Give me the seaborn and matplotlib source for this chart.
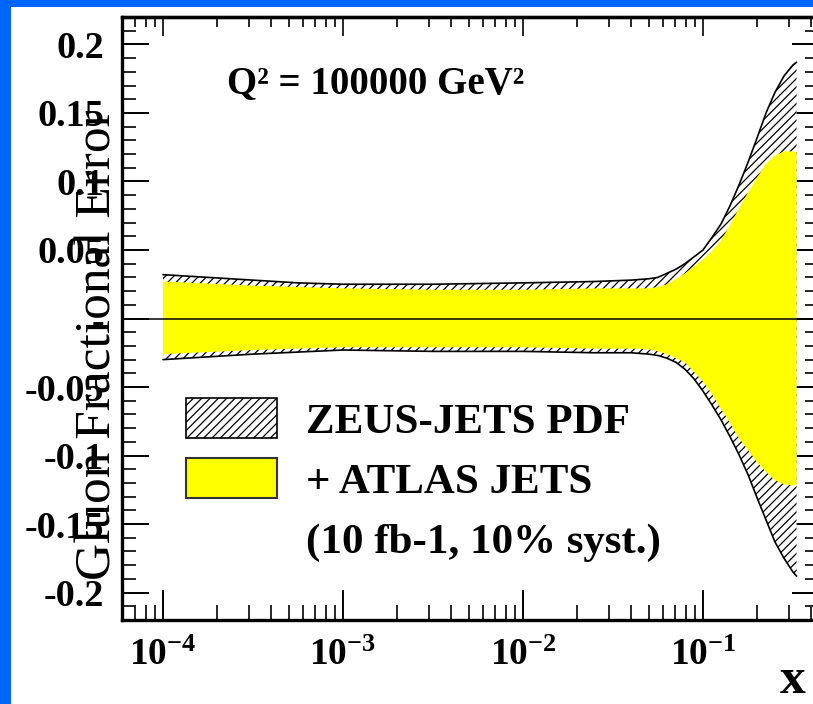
import numpy as np
import matplotlib
matplotlib.use("Agg")
import matplotlib.pyplot as plt
import seaborn as sns
from matplotlib.patches import Patch, Rectangle
from matplotlib.ticker import (FixedLocator, FixedFormatter, LogLocator,
                               MultipleLocator, NullFormatter)

# ---------------- data ----------------
x_vals = [1e-4, 1.78e-4, 3.16e-4, 5.62e-4, 1e-3, 3.16e-3, 1e-2, 0.0251, 0.0398, 0.0501,
          0.0562, 0.0631, 0.0708, 0.0794, 0.0891, 0.1, 0.112, 0.126, 0.141, 0.158,
          0.178, 0.2, 0.224, 0.251, 0.282, 0.316, 0.331]
zeus_upper = [0.032, 0.030, 0.028, 0.026, 0.025, 0.025, 0.026, 0.027, 0.028, 0.029,
              0.030, 0.033, 0.036, 0.040, 0.045, 0.050, 0.059, 0.069, 0.082, 0.097,
              0.114, 0.132, 0.150, 0.165, 0.177, 0.185, 0.187]
zeus_lower = [-0.030, -0.028, -0.026, -0.0245, -0.023, -0.024, -0.024, -0.025, -0.025, -0.026,
              -0.027, -0.029, -0.032, -0.037, -0.044, -0.053, -0.063, -0.074, -0.086, -0.099,
              -0.114, -0.131, -0.147, -0.163, -0.175, -0.185, -0.188]
atlas_upper = [0.027, 0.0255, 0.024, 0.023, 0.022, 0.021, 0.021, 0.022, 0.022, 0.022,
               0.023, 0.025, 0.029, 0.033, 0.038, 0.043, 0.049, 0.057, 0.068, 0.080,
               0.092, 0.103, 0.113, 0.119, 0.122, 0.122, 0.121]
atlas_lower = [-0.026, -0.0245, -0.023, -0.022, -0.021, -0.021, -0.021, -0.022, -0.022, -0.0225,
               -0.024, -0.026, -0.029, -0.032, -0.039, -0.046, -0.055, -0.066, -0.076, -0.087,
               -0.096, -0.105, -0.112, -0.118, -0.121, -0.122, -0.121]

xtick_vals = [1e-4, 1e-3, 1e-2, 1e-1]
xtick_labels = [r"$\mathbf{10^{-4}}$", r"$\mathbf{10^{-3}}$",
                r"$\mathbf{10^{-2}}$", r"$\mathbf{10^{-1}}$"]
ytick_vals = [0.2, 0.15, 0.1, 0.05, 0.0, -0.05, -0.1, -0.15, -0.2]
ytick_labels = ["0.2", "0.15", "0.1", "0.05", "-", "-0.05", "-0.1", "-0.15", "-0.2"]

legend_labels = ["ZEUS-JETS PDF", "+ ATLAS JETS", "(10 fb-1, 10% syst.)"]
title_text = "Q² = 100000 GeV²"
y_title = "Gluon Fractional Error"
x_title = "x"

# ---------------- style ----------------
sns.set_style("ticks")
plt.rcParams["font.family"] = ["Liberation Serif", "DejaVu Serif"]
plt.rcParams["font.weight"] = "bold"
plt.rcParams["mathtext.fontset"] = "custom"
plt.rcParams["mathtext.rm"] = "Liberation Serif"
plt.rcParams["mathtext.bf"] = "Liberation Serif:bold"
plt.rcParams["hatch.linewidth"] = 0.9

BLUE = "#0066FF"
YELLOW = "#FFFF00"

fig = plt.figure(figsize=(8.13, 7.04), dpi=100, facecolor=BLUE)
panel = Rectangle((11 / 813, 0), 1.0, (704 - 7) / 704, transform=fig.transFigure,
                  facecolor="white", edgecolor="none", zorder=-1)
fig.add_artist(panel)

ax = fig.add_axes([122 / 813, 84 / 704, 697 / 813, 603 / 704])
ax.set_facecolor("white")
ax.set_xscale("log")

# outer (hatched) band
ax.fill_between(x_vals, zeus_lower, zeus_upper, facecolor="white",
                edgecolor="black", hatch="////", linewidth=0, zorder=1)
sns.lineplot(x=x_vals, y=zeus_upper, ax=ax, color="black", lw=1.2, zorder=2)
sns.lineplot(x=x_vals, y=zeus_lower, ax=ax, color="black", lw=1.2, zorder=2)
# inner (yellow) band
ax.fill_between(x_vals, atlas_lower, atlas_upper, facecolor=YELLOW,
                edgecolor="none", linewidth=0, zorder=3)
ax.axhline(0.0, color="black", lw=1.1, zorder=4)

ax.set_xlim(5.92e-5, 0.441)
ax.set_ylim(-0.22, 0.22)

# ticks
ax.xaxis.set_major_locator(FixedLocator(xtick_vals))
ax.xaxis.set_major_formatter(FixedFormatter(xtick_labels))
ax.xaxis.set_minor_locator(LogLocator(base=10, subs=np.arange(2, 10) * 1.0, numticks=30))
ax.xaxis.set_minor_formatter(NullFormatter())
ax.yaxis.set_major_locator(FixedLocator(ytick_vals))
ax.yaxis.set_major_formatter(FixedFormatter(ytick_labels))
ax.yaxis.set_minor_locator(MultipleLocator(0.01))

ax.tick_params(axis="x", which="major", direction="in", length=21.6, width=1.4,
               bottom=True, top=False, labelsize=27, pad=13, colors="black")
ax.tick_params(axis="x", which="minor", direction="in", length=10.8, width=1.4,
               bottom=True, top=False)
ax.tick_params(axis="y", which="major", direction="in", length=19.4, width=1.4,
               left=True, right=True, labelsize=27.5, pad=13, colors="black")
ax.tick_params(axis="y", which="minor", direction="in", length=10, width=1.4,
               left=True, right=True)

sec = ax.secondary_xaxis("top", functions=(lambda v: v, lambda v: v))
sec.xaxis.set_major_locator(FixedLocator(xtick_vals))
sec.xaxis.set_minor_locator(LogLocator(base=10, subs=np.arange(2, 10) * 1.0, numticks=30))
sec.xaxis.set_minor_formatter(NullFormatter())
sec.tick_params(axis="x", which="major", direction="in", length=13.7, width=1.4,
                labeltop=False)
sec.tick_params(axis="x", which="minor", direction="in", length=7.2, width=1.4)
sec.spines["top"].set_linewidth(2.4)

for s in ax.spines.values():
    s.set_linewidth(2.4)
    s.set_color("black")

# axis titles
ax.set_ylabel(y_title, fontsize=37, fontweight="normal", color="black")
ax.yaxis.set_label_coords(-0.0344, 0.456)
ax.yaxis.label.set_va("center")
fig.text(0.975, 0.016, x_title, fontsize=37, fontweight="bold", ha="center",
         va="baseline", color="black")

# Q^2 annotation
ax.text(0.151, 0.874, title_text, transform=ax.transAxes, fontsize=28,
        fontweight="bold", ha="left", va="baseline", color="black")

# legend
handles = [Patch(facecolor="white", edgecolor="black", hatch="////", lw=1.2),
           Patch(facecolor=YELLOW, edgecolor="#333333", lw=1.5),
           Patch(facecolor="none", edgecolor="none")]
leg = ax.legend(handles, legend_labels, loc="upper left",
                bbox_to_anchor=(0.0918, 0.3682), frameon=False,
                prop={"family": "Liberation Serif", "weight": "bold", "size": 31},
                handlelength=2.11, handleheight=1.05, handletextpad=0.68,
                labelspacing=0.38, borderpad=0.0, borderaxespad=0.0)
for t in leg.get_texts():
    t.set_color("black")

fig.savefig("out.png", dpi=100, facecolor=BLUE)
